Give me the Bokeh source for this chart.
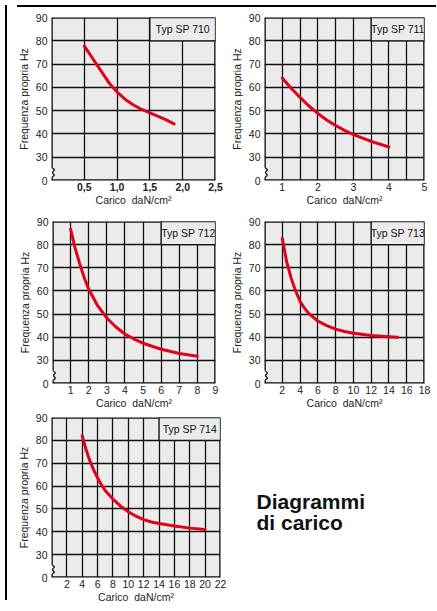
from bokeh.plotting import figure
from bokeh.models import FixedTicker, Div
from bokeh.layouts import row, column
from bokeh.embed import file_html
from bokeh.resources import INLINE
from bokeh.core.properties import value

# ---------------- data ----------------
sp710_x = [0.5, 0.625, 0.75, 0.875, 1.0, 1.125, 1.25, 1.375, 1.5, 1.625, 1.75, 1.87]
sp710_y = [77.8, 72.5, 67.3, 62.0, 58.0, 54.8, 52.4, 50.5, 49.0, 47.5, 46.0, 44.3]

sp711_x = [1.0, 1.25, 1.5, 1.75, 2.0, 2.25, 2.5, 2.75, 3.0, 3.5, 4.0]
sp711_y = [64.0, 59.6, 55.7, 52.0, 48.8, 46.0, 43.6, 41.5, 39.7, 36.8, 34.4]

sp712_x = [1.0, 1.25, 1.5, 1.75, 2.0, 2.5, 3.0, 3.5, 4.0, 4.5, 5.0, 6.0, 7.0, 8.0]
sp712_y = [86.7, 78.5, 71.8, 65.8, 60.7, 53.5, 48.3, 44.4, 41.4, 39.2, 37.4, 34.8, 33.0, 31.8]

sp713_x = [2.0, 2.5, 3.0, 3.5, 4.0, 4.5, 5.0, 6.0, 7.0, 8.0, 9.0, 10.0, 12.0, 14.0, 15.0]
sp713_y = [82.7, 72.5, 65.5, 60.0, 55.5, 52.5, 50.2, 47.0, 45.0, 43.5, 42.5, 41.7, 40.7, 40.2, 40.0]

sp714_x = [4.0, 4.5, 5.0, 5.5, 6.0, 6.5, 7.0, 8.0, 9.0, 10.0, 11.0, 12.0, 13.0, 14.0, 16.0, 18.0, 20.0]
sp714_y = [82.0, 76.0, 71.0, 67.0, 63.5, 60.5, 58.0, 54.3, 51.2, 48.8, 46.8, 45.3, 44.3, 43.6, 42.5, 41.6, 41.0]

y_ticks = [20, 30, 40, 50, 60, 70, 80, 90]
y_tick_labels = {20: "0"}

x710_ticks = [0.5, 1.0, 1.5, 2.0, 2.5]
x710_labels = {0.5: "0,5", 1.0: "1,0", 1.5: "1,5", 2.0: "2,0", 2.5: "2,5"}
x711_ticks = [1, 2, 3, 4, 5]
x712_ticks = [1, 2, 3, 4, 5, 6, 7, 8, 9]
x713_ticks = [2, 4, 6, 8, 10, 12, 14, 16, 18]
x714_ticks = [2, 4, 6, 8, 10, 12, 14, 16, 18, 20, 22]

FONT = "Liberation Sans"
BG = "#ebebeb"
INK = "#111111"
TXT = "#222222"
RED = "#e2001a"
XLABEL = "Carico\u00a0 daN/cm\u00b2"
YLABEL = "Frequenza propria Hz"


def panel(name, xs, ys, xr, grid_x, tick_x, box_x0, width, height,
          ml, mr, mt, mb, x_overrides=None, bold_x=False):
    xmin, xmax = xr
    p = figure(width=width, height=height, x_range=xr, y_range=(20, 90),
               output_backend="svg", toolbar_location=None,
               min_border_left=ml, min_border_right=mr,
               min_border_top=mt, min_border_bottom=mb)
    p.background_fill_color = BG
    p.border_fill_color = "white"
    p.outline_line_color = None

    p.xgrid.ticker = FixedTicker(ticks=grid_x)
    p.ygrid.ticker = FixedTicker(ticks=y_ticks)
    p.grid.grid_line_color = INK
    p.grid.grid_line_width = 1.3

    p.xaxis.ticker = FixedTicker(ticks=tick_x)
    if x_overrides:
        p.xaxis.major_label_overrides = x_overrides
    p.yaxis.ticker = FixedTicker(ticks=y_ticks)
    p.yaxis.major_label_overrides = y_tick_labels
    p.axis.axis_line_color = None
    p.axis.major_tick_line_color = None
    p.axis.minor_tick_line_color = None
    p.axis.major_tick_out = 0
    p.axis.major_tick_in = 0
    p.axis.minor_tick_out = 0
    p.axis.minor_tick_in = 0
    p.axis.major_label_text_font = FONT
    p.axis.major_label_text_font_size = "10.5px"
    p.axis.major_label_text_color = TXT
    p.xaxis.major_label_standoff = 2
    p.yaxis.major_label_standoff = 4
    if bold_x:
        p.xaxis.major_label_text_font_style = "bold"
    p.yaxis.axis_label = YLABEL
    p.yaxis.axis_label_standoff = 3
    p.xaxis.axis_label = XLABEL
    p.xaxis.axis_label_standoff = 0
    p.axis.axis_label_text_font = FONT
    p.axis.axis_label_text_font_size = "10.5px"
    p.axis.axis_label_text_font_style = "normal"
    p.axis.axis_label_text_color = TXT

    # frame edges (with the axis break on the left side)
    fw = width - ml - mr
    px = (xmax - xmin) / fw
    p.segment(x0=[xmin, xmin, xmax, xmin, xmin], y0=[20, 90, 20, 25.8, 20],
              x1=[xmax, xmax, xmax, xmin, xmin], y1=[20, 90, 90, 90, 21.2],
              line_color=INK, line_width=2.6)
    p.line(x=[xmin, xmin + 3 * px, xmin + 0.8 * px, xmin + 3 * px, xmin],
           y=[25.8, 24.6, 23.4, 22.3, 21.2], line_color=INK, line_width=1.2)

    # type label box
    p.quad(left=[box_x0], right=[xmax], bottom=[80], top=[90],
           fill_color=BG, line_color=INK, line_width=1.3)
    p.text(x=[(box_x0 + xmax) / 2], y=[85], text=[name], text_align="center",
           text_baseline="middle", text_font=value(FONT),
           text_font_size="10.5px", text_color=INK)

    # curve
    p.line(x=xs, y=ys, line_color=RED, line_width=3, line_cap="round",
           line_join="round")
    return p


# row 1 (height 200), row 2 (height 200), row 3 (height 193)
p1 = panel("Typ SP 710", sp710_x, sp710_y, (0, 2.5), [0.5, 1.0, 1.5, 2.0],
           x710_ticks, 1.5, 215, 200, 39, 12, 5, 32,
           x_overrides=x710_labels, bold_x=True)
p2 = panel("Typ SP 711", sp711_x, sp711_y, (0.5, 5), [1, 1.5, 2, 2.5, 3, 3.5, 4, 4.5],
           x711_ticks, 3.5, 204, 200, 37, 7, 5, 32)
p3 = panel("Typ SP 712", sp712_x, sp712_y, (0, 9), [1, 2, 3, 4, 5, 6, 7, 8],
           x712_ticks, 6, 215, 200, 40, 12, 9, 29)
p4 = panel("Typ SP 713", sp713_x, sp713_y, (0, 18), [2, 4, 6, 8, 10, 12, 14, 16],
           x713_ticks, 12, 204, 200, 37, 7, 9, 29)
p5 = panel("Typ SP 714", sp714_x, sp714_y, (0, 22),
           [2, 4, 6, 8, 10, 12, 14, 16, 18, 20],
           x714_ticks, 14, 215, 193, 39, 7, 5, 28)

# title block
pt = figure(width=204, height=193, x_range=(0, 204), y_range=(0, 193),
            output_backend="svg", toolbar_location=None, min_border=0)
pt.axis.visible = False
pt.grid.visible = False
pt.outline_line_color = None
pt.text(x=[29, 29], y=[92, 66], text=["Diagrammi", "di carico"],
        text_font=value(FONT), text_font_style="bold",
        text_font_size="21px", text_color="#111111",
        text_align="left", text_baseline="alphabetic")

left_bar = Div(width=2, height=595, styles={"background-color": "#000"})
top_bar = Div(width=419, height=2, styles={"background-color": "#000"})

layout = row(left_bar,
             column(top_bar, row(p1, p2), row(p3, p4), row(p5, pt)))

open("out.html", "w").write(file_html(layout, INLINE))
